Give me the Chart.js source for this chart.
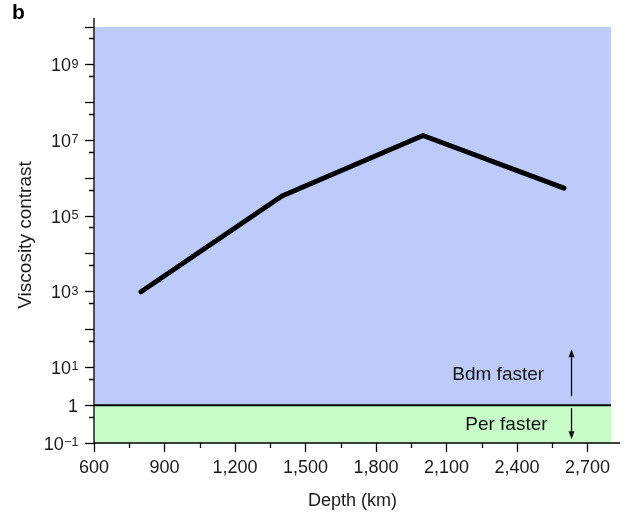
<!DOCTYPE html>
<html>
<head>
<meta charset="utf-8">
<script src="https://cdn.jsdelivr.net/npm/chart.js@4.4.1/dist/chart.umd.min.js"></script>
<style>
  html, body { margin: 0; padding: 0; background: #fff; }
  #wrap { width: 626px; height: 513px; position: relative; }
</style>
</head>
<body>
<div id="wrap"><canvas id="viscChart" width="626" height="513"></canvas></div>
<script>
// data
const depths = [800, 1400, 2000, 2600];
const viscosity = [1e3, 3.4e5, 1.35e7, 5.5e5];

// axis ticks
const xTickValues = [600, 900, 1200, 1500, 1800, 2100, 2400, 2700];
const xMinorTicks = [750, 1050, 1350, 1650, 1950, 2250, 2550];
const yTickValues = [0.1, 1, 10, 100, 1e3, 1e4, 1e5, 1e6, 1e7, 1e8, 1e9, 1e10];
// "base^exponent", drawn with a raised exponent
const yTickLabels = ["10^\u22121", "1", "10^1", "", "10^3", "", "10^5", "", "10^7", "", "10^9", ""];
const yMinorTicks = [0.5, 5, 50, 500, 5e3, 5e4, 5e5, 5e6, 5e7, 5e8, 5e9];

const xRange = [600, 2800];
const yRange = [0.1, 1e10];

const FONT = "'Liberation Sans', Arial, Helvetica, sans-serif";
Chart.defaults.font.family = FONT;
Chart.defaults.color = "#1a1a1a";

const BLUE = "#bdcbfb";
const GREEN = "#c8fdc8";

// extra drawing: y labels with superscripts, minor ticks, axis lines, notes, arrows
const extrasPlugin = {
  id: "extras",
  afterDraw(chart) {
    const ctx = chart.ctx;
    const xs = chart.scales.x;
    const ys = chart.scales.y;
    const area = chart.chartArea;
    ctx.save();
    ctx.strokeStyle = "#000";
    ctx.lineWidth = 1.3;

    // axis lines (slightly longer than the plot, like the original)
    ctx.beginPath();
    ctx.moveTo(area.left, area.top - 9);
    ctx.lineTo(area.left, area.bottom);
    ctx.lineTo(area.right + 9, area.bottom);
    ctx.stroke();

    // minor ticks
    ctx.beginPath();
    yMinorTicks.forEach((v) => {
      const py = Math.round(ys.getPixelForValue(v)) + 0.5;
      ctx.moveTo(area.left - 5, py);
      ctx.lineTo(area.left, py);
    });
    xMinorTicks.forEach((v) => {
      const px = Math.round(xs.getPixelForValue(v)) + 0.5;
      ctx.moveTo(px, area.bottom);
      ctx.lineTo(px, area.bottom + 5);
    });
    ctx.stroke();

    // y tick labels, right aligned, exponent raised
    ctx.fillStyle = "#1a1a1a";
    ctx.textBaseline = "alphabetic";
    ctx.textAlign = "left";
    const right = area.left - 16;
    yTickValues.forEach((v, i) => {
      const lab = yTickLabels[i];
      if (!lab) return;
      const py = ys.getPixelForValue(v);
      const [base, exp] = lab.split("^");
      ctx.font = "18px " + FONT;
      const wb = ctx.measureText(base).width;
      let we = 0;
      if (exp) {
        ctx.font = "12.5px " + FONT;
        we = ctx.measureText(exp).width;
      }
      const x0 = right - wb - we;
      ctx.font = "18px " + FONT;
      ctx.fillText(base, x0, py + 6.5);
      if (exp) {
        ctx.font = "12.5px " + FONT;
        ctx.fillText(exp, x0 + wb + 0.5, py + 3);
      }
    });

    // annotations
    const yOne = ys.getPixelForValue(1);
    const ax = xs.getPixelForValue(2632);
    ctx.fillStyle = "#111";
    ctx.font = "19px " + FONT;
    ctx.textAlign = "center";
    ctx.textBaseline = "middle";
    ctx.fillText("Bdm faster", xs.getPixelForValue(2320), yOne - 30);
    ctx.fillText("Per faster", xs.getPixelForValue(2355), yOne + 20);

    const arrow = (x, y0, y1) => {
      const dir = y1 < y0 ? -1 : 1;
      ctx.lineWidth = 1.3;
      ctx.beginPath();
      ctx.moveTo(x, y0);
      ctx.lineTo(x, y1 - dir * 6);
      ctx.stroke();
      ctx.beginPath();
      ctx.moveTo(x, y1);
      ctx.lineTo(x - 3, y1 - dir * 8);
      ctx.lineTo(x + 3, y1 - dir * 8);
      ctx.closePath();
      ctx.fill();
    };
    arrow(ax, yOne - 9, yOne - 56);
    arrow(ax, yOne + 3, yOne + 34);

    // panel letter
    ctx.font = "bold 21px " + FONT;
    ctx.textAlign = "left";
    ctx.textBaseline = "alphabetic";
    ctx.fillStyle = "#000";
    ctx.fillText("b", 12, 19);
    ctx.restore();
  },
};

const ctx = document.getElementById("viscChart");

new Chart(ctx, {
  type: "line",
  data: {
    datasets: [
      {
        label: "Viscosity contrast",
        data: depths.map((d, i) => ({ x: d, y: viscosity[i] })),
        borderColor: "#000",
        borderWidth: 5,
        borderCapStyle: "round",
        borderJoinStyle: "round",
        pointRadius: 0,
        tension: 0,
        fill: false,
        order: 0,
      },
      {
        label: "Bdm faster",
        data: [{ x: xRange[0], y: 1 }, { x: xRange[1], y: 1 }],
        borderWidth: 0,
        borderColor: "rgba(0,0,0,0)",
        backgroundColor: BLUE,
        pointRadius: 0,
        fill: "end",
        order: 2,
      },
      {
        label: "Per faster",
        data: [{ x: xRange[0], y: 1 }, { x: xRange[1], y: 1 }],
        borderWidth: 2,
        borderColor: "#000",
        backgroundColor: GREEN,
        pointRadius: 0,
        fill: "start",
        order: 1,
      },
    ],
  },
  options: {
    responsive: false,
    animation: false,
    layout: { padding: { left: 0, top: 27, right: 15, bottom: 0 } },
    plugins: {
      legend: { display: false },
      tooltip: { enabled: false },
    },
    scales: {
      x: {
        type: "linear",
        min: xRange[0],
        max: xRange[1],
        afterBuildTicks: (scale) => {
          scale.ticks = xTickValues.map((v) => ({ value: v }));
        },
        afterFit: (scale) => {
          scale.height = 70;
        },
        ticks: {
          callback: (v) => v.toLocaleString("en-US"),
          font: { size: 18 },
          color: "#1a1a1a",
          padding: 5,
          maxRotation: 0,
        },
        grid: {
          drawOnChartArea: false,
          drawTicks: true,
          tickLength: 9,
          tickColor: "#000",
          tickWidth: 1.3,
        },
        border: { display: false },
        title: {
          display: true,
          text: "Depth (km)",
          font: { size: 18 },
          color: "#1a1a1a",
          padding: { top: 0, bottom: 1 },
        },
      },
      y: {
        type: "logarithmic",
        min: yRange[0],
        max: yRange[1],
        afterBuildTicks: (scale) => {
          scale.ticks = yTickValues.map((v) => ({ value: v }));
        },
        afterFit: (scale) => {
          scale.width = 94;
        },
        ticks: {
          // labels are drawn by the extras plugin (superscripts)
          callback: () => "",
          autoSkip: false,
        },
        grid: {
          drawOnChartArea: false,
          drawTicks: true,
          tickLength: 9,
          tickColor: "#000",
          tickWidth: 1.3,
        },
        border: { display: false },
        title: {
          display: true,
          text: "Viscosity contrast",
          font: { size: 19 },
          color: "#1a1a1a",
          padding: { top: 14, bottom: 0 },
        },
      },
    },
  },
  plugins: [extrasPlugin],
});
</script>
</body>
</html>
